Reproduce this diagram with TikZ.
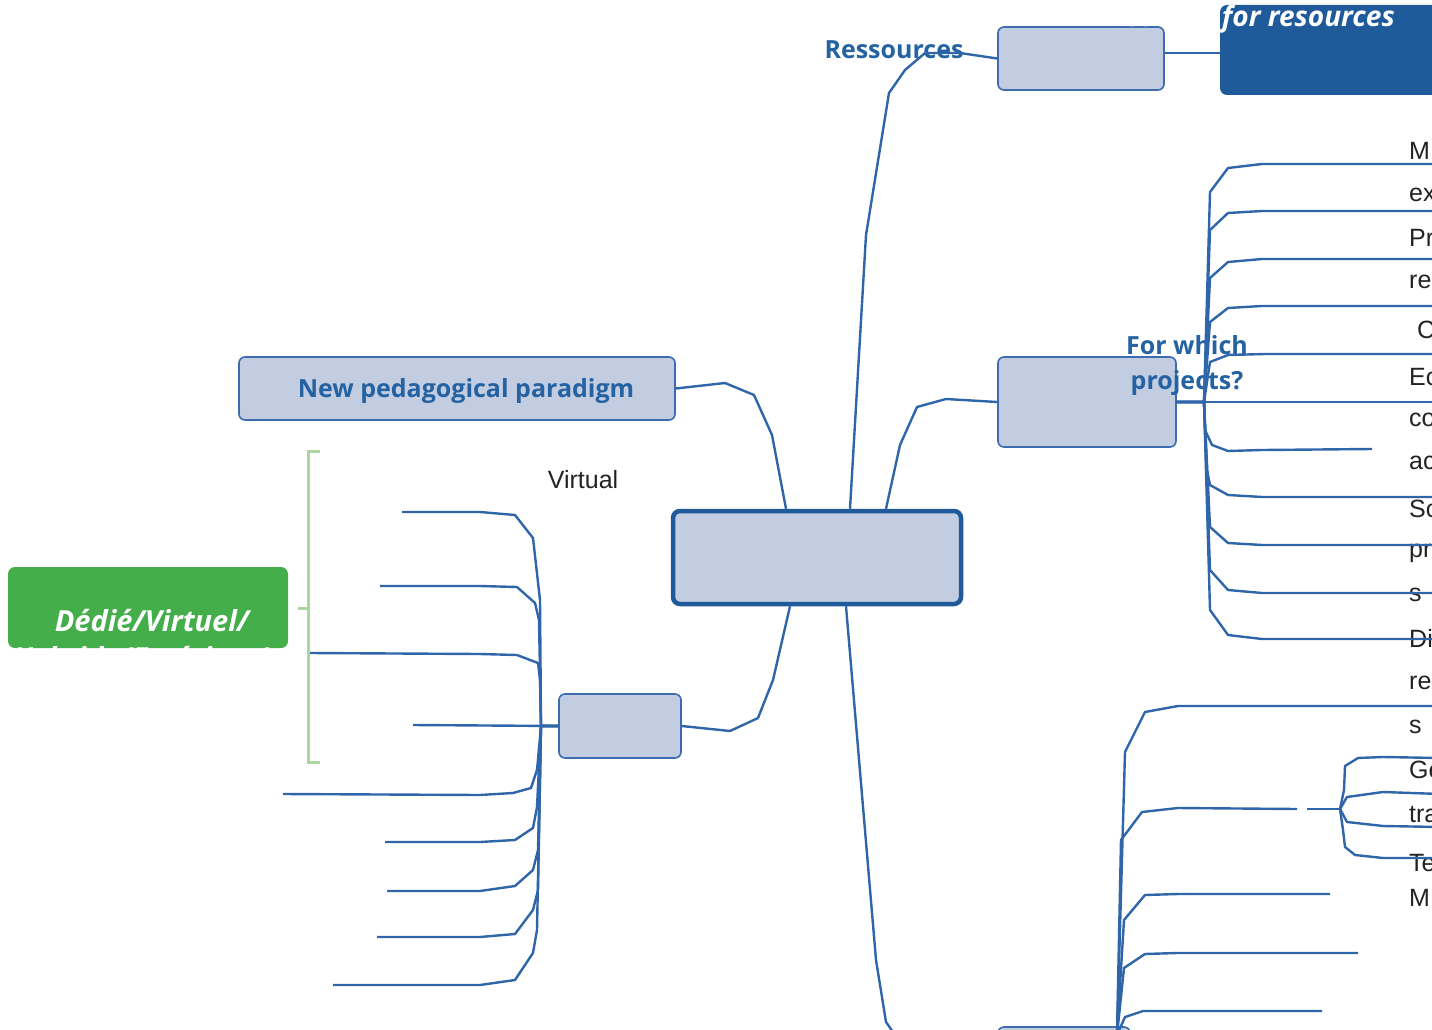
\documentclass[tikz,border=0pt]{standalone}
\usepackage{fontspec}
\setmainfont{Liberation Sans}
\newfontfamily\labelfont{Open Sans}
\usetikzlibrary{calc}

\definecolor{linkblue}{HTML}{2F66A9}
\definecolor{boxfill}{HTML}{C2CDE1}
\definecolor{boxline}{HTML}{3C6CAD}
\definecolor{deepblue}{HTML}{1F5A9B}
\definecolor{labelblue}{HTML}{2462A2}
\definecolor{leafgreen}{HTML}{43AE4A}
\definecolor{bracketgreen}{HTML}{ABD6A2}
\definecolor{inktext}{HTML}{222222}

\tikzset{
  link/.style={draw=linkblue, line width=2.4pt, line join=round},
  topicbox/.style={draw=boxline, fill=boxfill, line width=1.6pt,
    rounded corners=6pt, inner sep=0pt},
  centralbox/.style={topicbox, draw=deepblue, line width=4.5pt, rounded corners=7pt},
  darkbox/.style={fill=deepblue, rounded corners=7pt, inner sep=0pt},
  greenbox/.style={fill=leafgreen, rounded corners=7pt, inner sep=0pt},
  bracket/.style={draw=bracketgreen, line width=3pt},
  bluelabel/.style={text=labelblue, inner sep=0pt,
    font=\labelfont\bfseries\fontsize{25}{35}\selectfont},
  whitelabel/.style={text=white, inner sep=0pt,
    font=\labelfont\bfseries\itshape\fontsize{29}{34}\selectfont},
  leaftext/.style={text=inktext, inner sep=0pt, anchor=base west,
    font=\fontsize{25}{30}\selectfont},
}

\begin{document}
\begin{tikzpicture}[x=1pt,y=-1pt]
\useasboundingbox (0,0) rectangle (1432,1030);
\begin{scope}
\clip (0,0) rectangle (1432,1030);

% ---- topic boxes ----
\node[centralbox, minimum width=288pt, minimum height=93pt] (hub) at (817,557.5) {};
\node[topicbox, minimum width=166pt, minimum height=63pt] (res) at (1081,58.5) {};
\node[darkbox, minimum width=224pt, minimum height=90pt] (resdark) at (1332,50) {};
\node[topicbox, minimum width=178pt, minimum height=90pt] (proj) at (1087,402) {};
\node[topicbox, minimum width=436pt, minimum height=63pt] (ped) at (457,388.5) {};
\node[topicbox, minimum width=122pt, minimum height=64pt] (leftbox) at (620,726) {};
\node[topicbox, minimum width=132pt, minimum height=63pt] (bottombox) at (1064,1058.5) {};
\node[greenbox, minimum width=280pt, minimum height=81pt] (green) at (148,607.5) {};

% ---- labels ----
\node[bluelabel] (reslabel) at (894,50) {Ressources};
\node[bluelabel, align=center] (projlabel) at (1187,366) {For which\\projects?};
\node[bluelabel] (pedlabel) at (466,391) {New pedagogical paradigm};
\node[whitelabel, anchor=base east, font=\labelfont\bfseries\itshape\fontsize{28}{34}\selectfont]
  (resdarklabel) at (1395,27) {Methods for resources};
\node[whitelabel, anchor=base] (greenlabel) at (152,631) {Dédié/Virtuel/};
\node[whitelabel, anchor=base] (greenlabelb) at (152,668) {Hybride/Extérieur(s)};
\node[text=inktext, inner sep=0pt, font=\fontsize{25}{30}\selectfont] (virtual) at (583,480) {Virtual};

% ---- leaf texts on the right, cut by the edge ----
\node[leaftext] (t1) at (1409,159) {M};
\node[leaftext] (t2) at (1409,201.5) {ex};
\node[leaftext] (t3) at (1409,246) {Pr};
\node[leaftext] (t4) at (1409,288.5) {re};
\node[leaftext] (t5) at (1417,338) {C};
\node[leaftext] (t6) at (1409,385) {Ec};
\node[leaftext] (t7) at (1409,426.5) {co};
\node[leaftext] (t8) at (1409,469.5) {ac};
\node[leaftext] (t9) at (1409,517) {Sc};
\node[leaftext] (t10) at (1409,557) {pr};
\node[leaftext] (t11) at (1409,601) {s};
\node[leaftext] (t12) at (1409,647) {Di};
\node[leaftext] (t13) at (1409,689.5) {re};
\node[leaftext] (t14) at (1409,733.5) {s};
\node[leaftext] (t15) at (1409,778) {Ge};
\node[leaftext] (t16) at (1409,822) {tra};
\node[leaftext] (t17) at (1409,871) {Te};
\node[leaftext] (t18) at (1409,906) {M};

% ---- free ends and roots ----
\coordinate (lrroot) at (1117,1035);
\coordinate (subroot) at (1340,809);
\coordinate (bracketmid) at (308,608);
\coordinate (leftspine) at (541,726);

% ---- hub connectors ----
\draw[link] ($(hub.north)+(33,0)$) -- (866,235) -- (889,93) -- (905,70) -- (925,53) -- (960,53) -- (res.west);
\draw[link] ([yshift=5.5pt]res.east) -- ([yshift=-3pt]resdark.west);
\draw[link] ($(hub.north)+(69,0)$) -- (900,445) -- (917,407) -- (946,399) -- (proj.west);
\draw[link] ($(hub.north)+(-31,0)$) -- (772,435) -- (754,395) -- (725,383) -- (ped.east);
\draw[link] ($(hub.south)+(-27,0)$) -- (773,680) -- (758,718) -- (730,731) -- (leftbox.east);
\draw[link] ($(hub.south)+(29,0)$) -- (876,960) -- (886,1022) -- (893,1032) -- (bottombox.west);

% ---- branches of "For which projects?" ----
\draw[link] (proj.east) -- (1204,402) -- (1210,192) -- (1228,168) -- (1262,164) -- (1440,164);
\draw[link] (proj.east) -- (1204,402) -- (1210,230) -- (1228,213) -- (1262,211) -- (1440,211);
\draw[link] (proj.east) -- (1204,402) -- (1210,278) -- (1228,262) -- (1262,259) -- (1440,259);
\draw[link] (proj.east) -- (1204,402) -- (1210,322) -- (1228,308) -- (1262,306) -- (1440,306);
\draw[link] (proj.east) -- (1204,402) -- (1210,362) -- (1228,355) -- (1265,354) -- (1440,354);
\draw[link] (proj.east) -- (1440,402);
\draw[link] (proj.east) -- (1204,402) -- (1205,430) -- (1212,445) -- (1228,451) -- (1262,450) -- (1372,449);
\draw[link] (proj.east) -- (1204,402) -- (1207,470) -- (1210,485) -- (1228,495) -- (1262,497) -- (1440,497);
\draw[link] (proj.east) -- (1204,402) -- (1210,527) -- (1228,543) -- (1262,545) -- (1440,545);
\draw[link] (proj.east) -- (1204,402) -- (1210,570) -- (1228,590) -- (1262,593) -- (1440,593);
\draw[link] (proj.east) -- (1204,402) -- (1210,610) -- (1228,635) -- (1262,639) -- (1440,639);

% ---- branches of the lower right topic ----
\draw[link] (lrroot) -- (1125,752) -- (1145,712) -- (1178,706) -- (1440,706);
\draw[link] (lrroot) -- (1121,840) -- (1142,812) -- (1178,808) -- (1297,809);
\draw[link] (1307,809) -- (subroot);
\draw[link] (lrroot) -- (1124,920) -- (1145,895) -- (1178,894) -- (1330,894);
\draw[link] (lrroot) -- (1124,968) -- (1145,954) -- (1177,953) -- (1358,953);
\draw[link] (lrroot) -- (1125,1017) -- (1143,1011) -- (1178,1011) -- (1322,1011);
\draw[link] (subroot) -- (1344,790) -- (1345,766) -- (1358,758) -- (1383,757) -- (1440,758);
\draw[link] (subroot) -- (1347,797) -- (1383,792) -- (1440,794);
\draw[link] (subroot) -- (1347,822) -- (1383,826) -- (1440,827);
\draw[link] (subroot) -- (1343,830) -- (1345,847) -- (1355,855) -- (1383,858) -- (1440,858);

% ---- branches of the left topic ----
\draw[link] (leftbox.west) -- (leftspine) -- (540,600) -- (533,538) -- (515,515) -- (480,512) -- (402,512);
\draw[link] (leftbox.west) -- (leftspine) -- (539,620) -- (535,603) -- (517,587) -- (480,586) -- (380,586);
\draw[link] (leftbox.west) -- (leftspine) -- (540,680) -- (538,663) -- (517,655) -- (480,654) -- (310,653);
\draw[link] (leftbox.west) -- (413,725);
\draw[link] (leftbox.west) -- (leftspine) -- (537,770) -- (531,788) -- (513,793) -- (480,795) -- (283,794);
\draw[link] (leftbox.west) -- (leftspine) -- (537,807) -- (533,828) -- (515,840) -- (480,842) -- (385,842);
\draw[link] (leftbox.west) -- (leftspine) -- (538,850) -- (533,870) -- (515,886) -- (480,891) -- (387,891);
\draw[link] (leftbox.west) -- (leftspine) -- (538,890) -- (533,910) -- (515,934) -- (480,937) -- (377,937);
\draw[link] (leftbox.west) -- (leftspine) -- (537,930) -- (533,953) -- (515,980) -- (480,985) -- (333,985);

% ---- green bracket ----
\draw[bracket] (320,451) -- (308,451) -- (308,762) -- (320,762);
\draw[bracket] (298,608) -- (bracketmid);
\end{scope}
\end{tikzpicture}
\end{document}
